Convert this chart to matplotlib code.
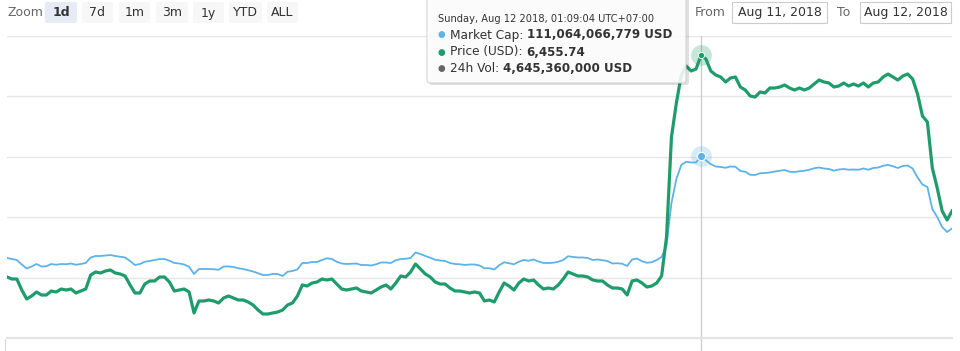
import matplotlib
matplotlib.use("Agg")
import matplotlib.pyplot as plt
import pandas as pd
from matplotlib.patches import FancyBboxPatch

plt.rcParams['font.family'] = ['DejaVu Sans']

# ---------------- data ----------------
start_time = "2018-08-11 07:31:30"
step = "450s"

price_usd = [
    6234, 6232, 6232, 6221, 6212, 6215, 6219, 6216, 6216, 6220,
    6219, 6222, 6221, 6222, 6218, 6220, 6222, 6236, 6239, 6238,
    6240, 6241, 6238, 6237, 6235, 6226, 6218, 6218, 6227, 6230,
    6230, 6234, 6234, 6229, 6220, 6221, 6222, 6219, 6198, 6210,
    6210, 6211, 6210, 6208, 6213, 6215, 6213, 6211, 6211, 6209,
    6206, 6201, 6197, 6197, 6198, 6199, 6201, 6206, 6208, 6215,
    6226, 6225, 6228, 6229, 6232, 6231, 6232, 6227, 6222, 6221,
    6222, 6223, 6220, 6219, 6218, 6221, 6224, 6226, 6222, 6228,
    6235, 6234, 6239, 6247, 6242, 6237, 6234, 6229, 6227, 6227,
    6223, 6220, 6220, 6219, 6218, 6219, 6218, 6210, 6211, 6209,
    6219, 6228, 6225, 6221, 6228, 6232, 6230, 6231, 6226, 6222,
    6223, 6222, 6226, 6232, 6239, 6237, 6235, 6235, 6234, 6231,
    6230, 6230, 6226, 6223, 6223, 6222, 6216, 6230, 6231, 6228,
    6224, 6225, 6228, 6235, 6274, 6374, 6408, 6436, 6445, 6440,
    6442, 6455.74, 6452, 6440, 6436, 6434, 6429, 6433, 6434, 6424,
    6421, 6415, 6414, 6419, 6418, 6423, 6423, 6424, 6426, 6423,
    6421, 6423, 6421, 6423, 6427, 6431, 6429, 6428, 6424, 6425,
    6428, 6425, 6427, 6425, 6428, 6424, 6428, 6429, 6434, 6437,
    6434, 6431, 6435, 6437, 6432, 6417, 6395, 6389, 6343, 6323,
    6300, 6291, 6300,
]

market_cap_busd = [
    106.98, 106.94, 106.90, 106.72, 106.56, 106.64, 106.74, 106.64, 106.65, 106.74,
    106.71, 106.74, 106.73, 106.76, 106.71, 106.74, 106.78, 107.00, 107.06, 107.06,
    107.08, 107.10, 107.06, 107.03, 107.00, 106.86, 106.70, 106.74, 106.83, 106.86,
    106.90, 106.94, 106.94, 106.87, 106.78, 106.76, 106.72, 106.63, 106.34, 106.54,
    106.54, 106.54, 106.53, 106.51, 106.64, 106.64, 106.62, 106.57, 106.54, 106.49,
    106.44, 106.37, 106.30, 106.30, 106.34, 106.34, 106.26, 106.43, 106.46, 106.52,
    106.78, 106.78, 106.82, 106.82, 106.90, 106.97, 106.94, 106.83, 106.76, 106.74,
    106.75, 106.76, 106.70, 106.70, 106.68, 106.73, 106.80, 106.80, 106.78, 106.89,
    106.94, 106.95, 106.98, 107.20, 107.14, 107.06, 106.99, 106.91, 106.88, 106.86,
    106.78, 106.74, 106.73, 106.70, 106.72, 106.72, 106.68, 106.57, 106.57, 106.52,
    106.69, 106.81, 106.77, 106.73, 106.83, 106.90, 106.87, 106.92, 106.84, 106.78,
    106.78, 106.79, 106.83, 106.90, 107.05, 107.02, 107.00, 107.00, 106.98, 106.90,
    106.92, 106.89, 106.86, 106.76, 106.77, 106.75, 106.66, 106.92, 106.96, 106.85,
    106.79, 106.81, 106.90, 107.02, 107.50, 109.18, 110.14, 110.70, 110.83, 110.80,
    110.80, 111.064066779, 110.89, 110.73, 110.64, 110.62, 110.59, 110.64, 110.63, 110.46,
    110.43, 110.31, 110.30, 110.37, 110.38, 110.40, 110.44, 110.47, 110.50, 110.43,
    110.42, 110.45, 110.47, 110.51, 110.57, 110.60, 110.56, 110.54, 110.47, 110.52,
    110.54, 110.51, 110.52, 110.51, 110.56, 110.51, 110.58, 110.60, 110.67, 110.70,
    110.65, 110.58, 110.66, 110.68, 110.56, 110.20, 109.92, 109.82, 108.94, 108.62,
    108.22, 108.02, 108.16,
]

hover_index = 141
hover_label = "Sunday, Aug 12 2018, 01:09:04 UTC+07:00"
volume_24h_usd = 4645360000

zoom_buttons = ["1d", "7d", "1m", "3m", "1y", "YTD", "ALL"]
selected_button = "1d"
range_from = "Aug 11, 2018"
range_to = "Aug 12, 2018"

price_range = (6173, 6475)
mcap_range = (103.78, 115.86)

# ---------------- styling ----------------
BLUE = "#5db3e6"
GREEN = "#1f9c6c"
GRID = "#e6e6e6"
TXT = "#333333"

times = pd.date_range(start_time, periods=len(price_usd), freq=step)

W, H = 960, 351
fig = plt.figure(figsize=(W / 100, H / 100), dpi=100)
fig.patch.set_facecolor("white")

left, right, top, bottom = 7, 952, 36, 338
ax = fig.add_axes([left / W, (H - bottom) / H, (right - left) / W, (bottom - top) / H])
ax.set_zorder(1)
ax.patch.set_alpha(0)
ax2 = ax.twinx()

# market cap (host axis)
ax.plot(times, market_cap_busd, color=BLUE, lw=1.3, solid_joinstyle="round", zorder=3)
ax.set_ylim(*mcap_range)
ax.set_xlim(times[0], times[-1])
lo, hi = mcap_range
ax.set_yticks([lo + (hi - lo) * f for f in (0.2, 0.4, 0.6, 0.8, 1.0)])
ax.grid(axis="y", color=GRID, lw=1.0)
ax.set_axisbelow(True)
ax.tick_params(left=False, bottom=False, labelleft=False, labelbottom=False)
for s in ("top", "left", "right"):
    ax.spines[s].set_visible(False)
ax.spines["bottom"].set_color("#e3e3e3")
ax.spines["bottom"].set_linewidth(1.6)

# crosshair
ax.axvline(times[hover_index], ymin=-0.045, ymax=1.0, color="#cccccc", lw=0.9,
           clip_on=False, zorder=2)

# blue hover marker
ax.plot([times[hover_index]], [market_cap_busd[hover_index]], "o", ms=15,
        color=BLUE, alpha=0.25, mec="none", zorder=4)
ax.plot([times[hover_index]], [market_cap_busd[hover_index]], "o", ms=6,
        color=BLUE, mec="white", mew=0.8, zorder=5)

# price (twin axis)
ax2.plot(times, price_usd, color=GREEN, lw=2.3, solid_joinstyle="round", zorder=3)
ax2.set_ylim(*price_range)
ax2.tick_params(right=False, labelright=False)
for s in ("top", "left", "right", "bottom"):
    ax2.spines[s].set_visible(False)
ax2.plot([times[hover_index]], [price_usd[hover_index]], "o", ms=15,
         color=GREEN, alpha=0.25, mec="none", zorder=4)
ax2.plot([times[hover_index]], [price_usd[hover_index]], "o", ms=4.5,
         color=GREEN, mec="white", mew=0.6, zorder=5)

# ---------------- overlay (pixel coords) ----------------
ov = fig.add_axes([0, 0, 1, 1], zorder=10)
ov.set_xlim(0, W)
ov.set_ylim(H, 0)
ov.axis("off")

ov.plot([4.5, 4.5], [339, 351], color="#cfd8e8", lw=0.8)

# range selector
ov.text(7, 13, "Zoom", fontsize=9, color="#666666", va="center", ha="left")
btn_x = [45, 82, 119, 156, 193, 229, 267]
btn_w = [32, 31, 31, 32, 31, 33, 31]
for lbl, bx, bw in zip(zoom_buttons, btn_x, btn_w):
    sel = lbl == selected_button
    ov.add_patch(FancyBboxPatch((bx, 2), bw, 21, boxstyle="round,pad=0,rounding_size=2",
                                fc="#e6ebf5" if sel else "#f7f7f7", ec="none"))
    ov.text(bx + bw / 2, 13, lbl, fontsize=9, color=TXT, va="center", ha="center",
            fontweight="bold" if sel else "normal")

ov.text(695, 13, "From", fontsize=9, color="#666666", va="center", ha="left")
ov.add_patch(FancyBboxPatch((732, 1.5), 95, 21.5, boxstyle="square,pad=0",
                            fc="white", ec="#cccccc", lw=0.8))
ov.text(779.5, 12.5, range_from, fontsize=9, color=TXT, va="center", ha="center")
ov.text(837, 13, "To", fontsize=9, color="#666666", va="center", ha="left")
ov.add_patch(FancyBboxPatch((860, 1.5), 91, 21.5, boxstyle="square,pad=0",
                            fc="white", ec="#cccccc", lw=0.8))
ov.text(905.5, 12.5, range_to, fontsize=9, color=TXT, va="center", ha="center")

# tooltip
ov.add_patch(FancyBboxPatch((429, -4), 260, 89, boxstyle="round,pad=0,rounding_size=3",
                            fc="#000000", ec="none", alpha=0.12))
ov.add_patch(FancyBboxPatch((427, -5), 259, 88, boxstyle="round,pad=0,rounding_size=3",
                            fc="white", ec="#cfcfcf", lw=0.8, alpha=0.88))
ov.text(438, 19, hover_label, fontsize=7.1, color=TXT, va="center", ha="left")

rows = [
    (BLUE, "Market Cap: ", f"{market_cap_busd[hover_index] * 1e9:,.0f} USD", 35),
    (GREEN, "Price (USD): ", f"{price_usd[hover_index]:,.2f}", 52),
    ("#666666", "24h Vol: ", f"{volume_24h_usd:,.0f} USD", 68),
]
fig.canvas.draw()
renderer = fig.canvas.get_renderer()
inv = ov.transData.inverted()
for col, name, val, yy in rows:
    ov.text(438, yy, "\u25cf", fontsize=6.3, color=col, va="center", ha="left")
    t = ov.text(450, yy, name, fontsize=8.7, color=TXT, va="center", ha="left")
    bb = t.get_window_extent(renderer=renderer)
    x_end = inv.transform((bb.x1, bb.y0))[0]
    ov.text(x_end, yy, val, fontsize=8.6, color=TXT, va="center", ha="left",
            fontweight="bold")

fig.savefig("out.png", dpi=100, facecolor="white")
